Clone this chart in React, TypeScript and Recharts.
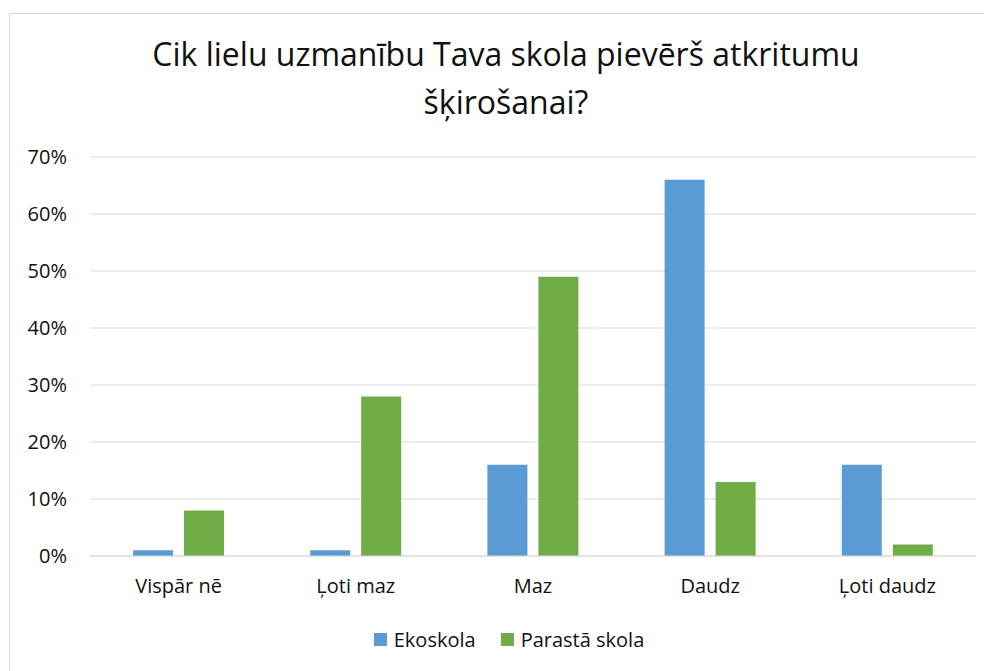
import React from 'react';
import { BarChart, Bar, XAxis, YAxis, CartesianGrid, Legend } from 'recharts';

const categories = ['Vispār nē', 'Ļoti maz', 'Maz', 'Daudz', 'Ļoti daudz'];
const ekoskola = [0.01, 0.01, 0.16, 0.66, 0.16];
const parastaSkola = [0.08, 0.28, 0.49, 0.13, 0.02];
const yTicks = [0, 0.1, 0.2, 0.3, 0.4, 0.5, 0.6, 0.7];
const titleLines = ['Cik lielu uzmanību Tava skola pievērš atkritumu', 'šķirošanai?'];

const FONT = '"Open Sans", "Noto Sans", sans-serif';
const TEXT = '#111111';
const BLUE = '#5B9BD5';
const GREEN = '#70AD47';

const data = categories.map((name, i) => ({
  name,
  eko: ekoskola[i],
  parasta: parastaSkola[i],
}));

const renderLegend = (props: any) => {
  const { payload } = props;
  return (
    <div style={{ display: 'flex', justifyContent: 'center', alignItems: 'flex-start', height: 24, fontFamily: FONT }}>
      {(payload || []).map((entry: any, i: number) => (
        <div key={i} style={{ display: 'flex', alignItems: 'flex-start', marginLeft: i === 0 ? 0 : 25 }}>
          <div style={{ width: 13, height: 13, background: entry.color, marginTop: 3, marginRight: 7 }} />
          <span style={{ fontSize: 20, lineHeight: '20px', color: TEXT }}>{entry.value}</span>
        </div>
      ))}
    </div>
  );
};

export default function App() {
  return (
    <div style={{ position: 'relative', width: 984, height: 663, overflow: 'hidden', background: '#fff' }}>
      <div
        style={{
          position: 'absolute',
          left: 1,
          top: 5,
          width: 1000,
          height: 700,
          border: '1px solid #d9d9d9',
        }}
      />
      {titleLines.map((line, i) => (
        <div
          key={i}
          style={{
            position: 'absolute',
            left: 0,
            width: 996,
            top: 30 + i * 48,
            textAlign: 'center',
            fontFamily: FONT,
            fontSize: 32,
            lineHeight: '32px',
            color: TEXT,
            whiteSpace: 'nowrap',
          }}
        >
          {line}
        </div>
      ))}
      <div style={{ position: 'absolute', left: 0, top: 0 }}>
        <BarChart
          width={984}
          height={663}
          data={data}
          margin={{ top: 149, right: 16, left: 0, bottom: 0 }}
          barSize={40}
          barGap={11}
        >
          <CartesianGrid vertical={false} stroke="#d9d9d9" strokeWidth={1} />
          <XAxis
            dataKey="name"
            height={91}
            tickSize={0}
            tickMargin={23}
            axisLine={{ stroke: '#d9d9d9' }}
            tick={{ fontSize: 20, fill: TEXT, fontFamily: FONT }}
            interval={0}
          />
          <YAxis
            width={82}
            domain={[0, 0.7]}
            ticks={yTicks}
            tickFormatter={(v: number) => `${Math.round(v * 100)}%`}
            tickSize={0}
            tickMargin={23}
            axisLine={false}
            tick={{ fontSize: 20, fill: TEXT, fontFamily: FONT }}
          />
          <Legend
            content={renderLegend}
            wrapperStyle={{ left: 0, top: 622, width: 1002 }}
          />
          <Bar dataKey="eko" name="Ekoskola" fill={BLUE} isAnimationActive={false} />
          <Bar dataKey="parasta" name="Parastā skola" fill={GREEN} isAnimationActive={false} />
        </BarChart>
      </div>
    </div>
  );
}
